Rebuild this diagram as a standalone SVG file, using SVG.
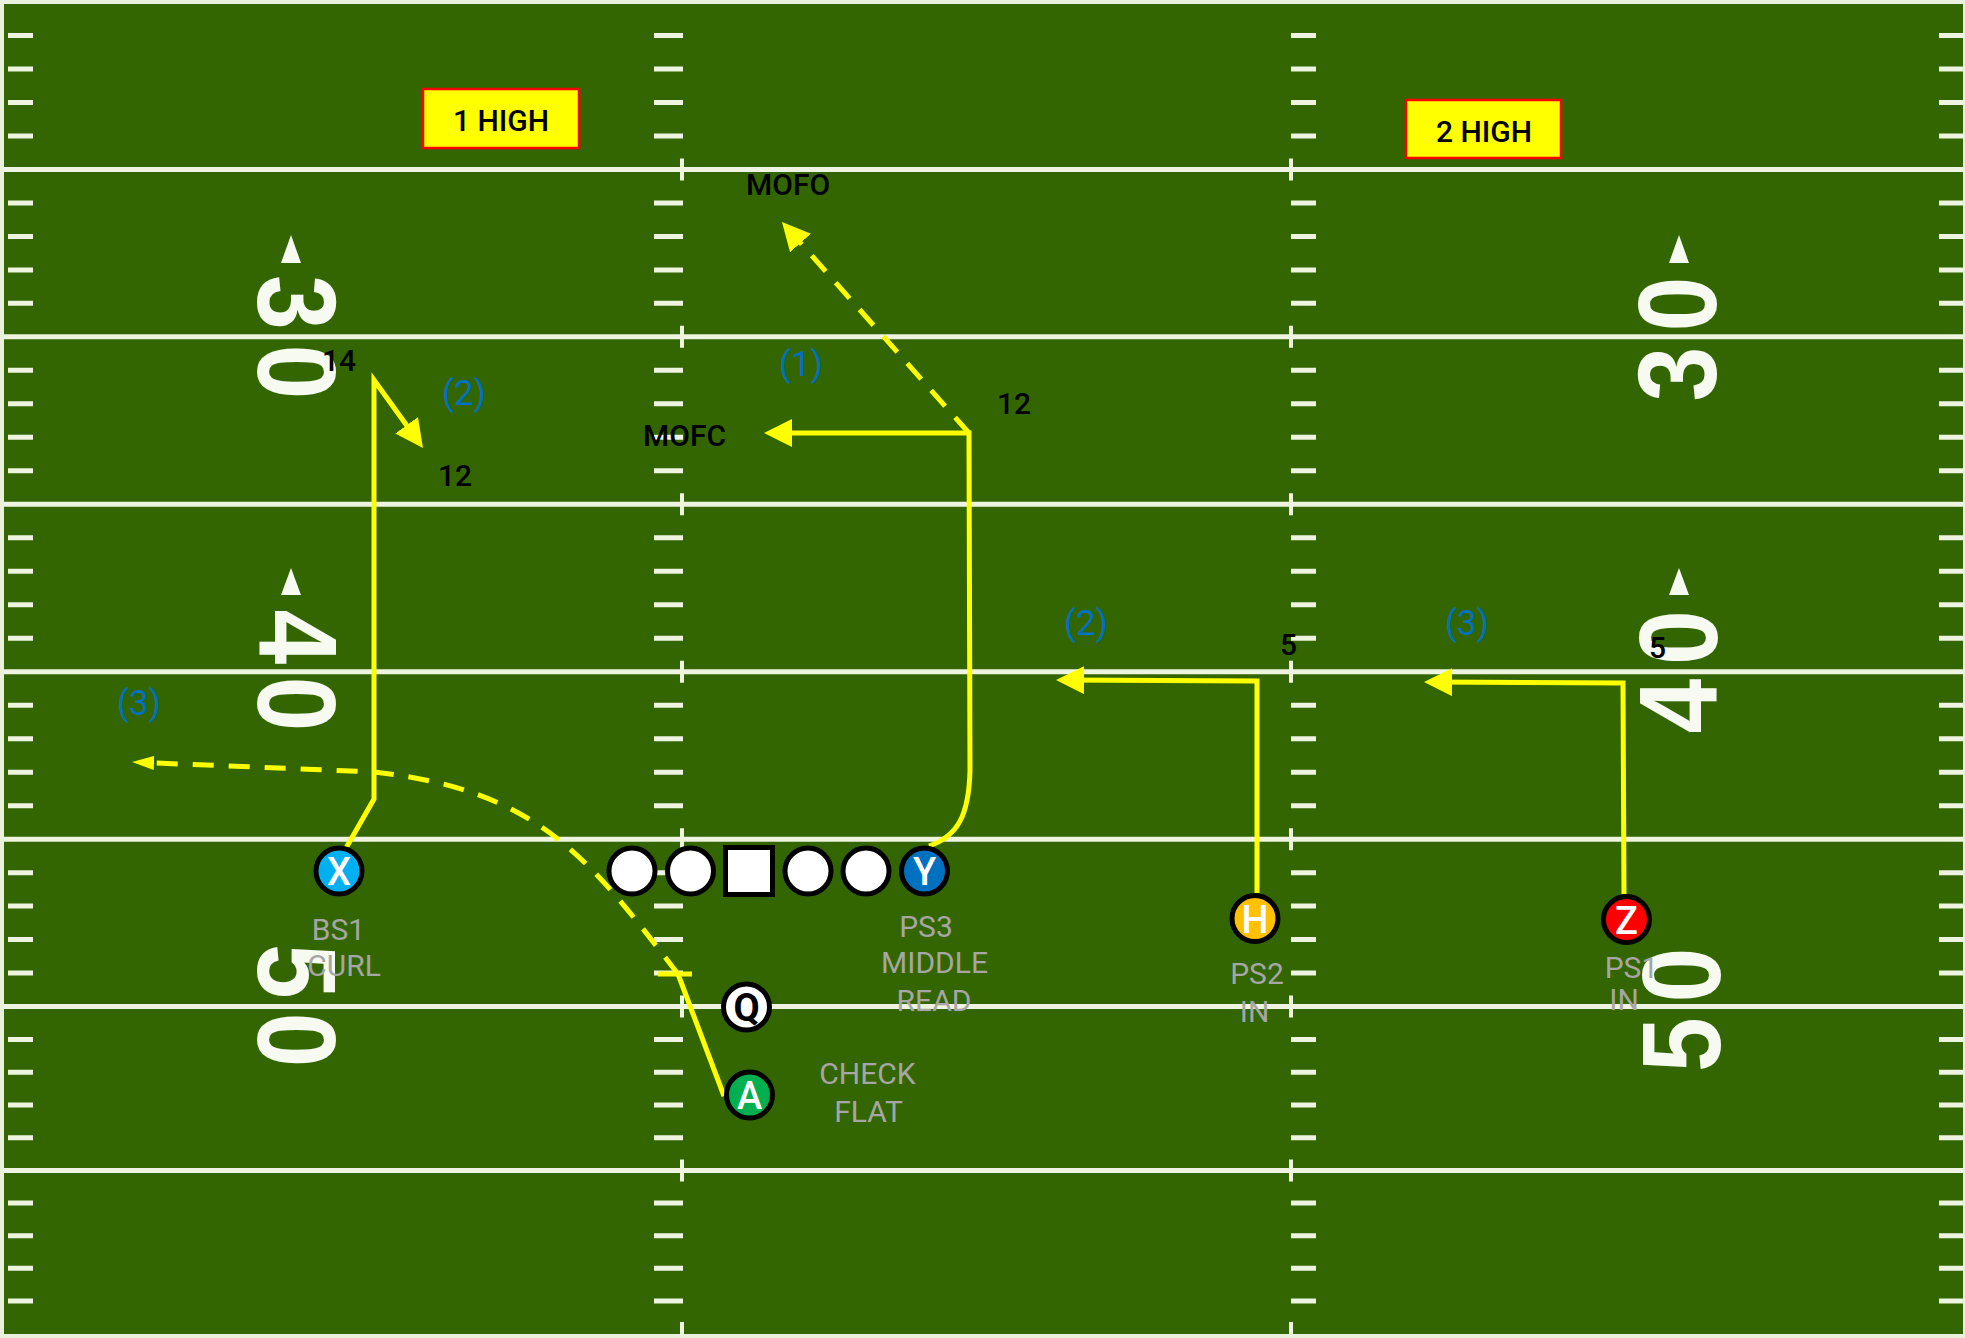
<svg xmlns="http://www.w3.org/2000/svg" width="1965" height="1338" viewBox="0 0 1965 1338">
<style>
.yl{stroke:#eef4e0;stroke-width:5;fill:none}
.hm{stroke:#eef4e0;stroke-width:5;fill:none}
.tk{stroke:#eef4e0;stroke-width:4;fill:none}
.num{font-family:"Liberation Sans",Arial,sans-serif;font-weight:bold;font-size:112px;fill:#f7faf0;text-anchor:middle}
.tri{fill:#f7faf0}
.rt{fill:none;stroke:#ffff00;stroke-width:5}
.dash{stroke-dasharray:21 15}
.pl{stroke:#000;stroke-width:5}
.pt{font-family:Roboto,"Liberation Sans",sans-serif;font-size:38px;font-weight:500;text-anchor:middle;fill:#fff}
.gl{font-family:Roboto,"Liberation Sans",sans-serif;font-size:30px;fill:#a6a6a6;text-anchor:middle}
.bl{font-family:Roboto,"Liberation Sans",sans-serif;font-size:30px;font-weight:500;fill:#000}
.bu{font-family:Roboto,"Liberation Sans",sans-serif;font-size:35px;fill:#0070c0}
.box{fill:#ffff00;stroke:#ff0000;stroke-width:2.5}
.bt{font-family:Roboto,"Liberation Sans",sans-serif;font-size:30px;font-weight:500;fill:#000;text-anchor:middle}
</style>
<defs>
<marker id="ah" markerUnits="userSpaceOnUse" viewBox="0 0 28 28" markerWidth="28" markerHeight="28" refX="20" refY="14" orient="auto"><path d="M0,0 L28,14 L0,28 z" fill="#ffff00"/></marker>
<marker id="ahs" markerUnits="userSpaceOnUse" viewBox="0 0 22 14" markerWidth="22" markerHeight="14" refX="12" refY="7" orient="auto"><path d="M0,0 L22,7 L0,14 z" fill="#ffff00"/></marker>
<g id="hr"><path class="hm" d="M8 0h25M654 0h29M1291 0h25M1939 0h24"/></g>
</defs>

<g id="field">
<rect x="0" y="0" width="1965" height="1338" fill="#e9f0dc"/>
<rect x="4" y="4" width="1959" height="1330" fill="#336600"/>
<path class="yl" d="M4 169.5H1963M4 336.8H1963M4 504.3H1963M4 671.7H1963M4 839.2H1963M4 1006.6H1963M4 1170.5H1963"/>
<path class="tk" d="M682 158.5v22M1291 158.5v22M682 325.8v22M1291 325.8v22M682 493.3v22M1291 493.3v22M682 660.7v22M1291 660.7v22M682 828.2v22M1291 828.2v22M682 995.6v22M1291 995.6v22M682 1159.5v22M1291 1159.5v22M682 1322v12M1291 1322v12"/>
<use href="#hr" y="35.5"/><use href="#hr" y="69"/><use href="#hr" y="102.5"/><use href="#hr" y="136"/>
<use href="#hr" y="203"/><use href="#hr" y="236.4"/><use href="#hr" y="269.9"/><use href="#hr" y="303.3"/>
<use href="#hr" y="370.3"/><use href="#hr" y="403.8"/><use href="#hr" y="437.3"/><use href="#hr" y="470.8"/>
<use href="#hr" y="537.8"/><use href="#hr" y="571.2"/><use href="#hr" y="604.7"/><use href="#hr" y="638.2"/>
<use href="#hr" y="705.2"/><use href="#hr" y="738.7"/><use href="#hr" y="772.2"/><use href="#hr" y="805.7"/>
<use href="#hr" y="872.7"/><use href="#hr" y="906.1"/><use href="#hr" y="939.6"/><use href="#hr" y="973.1"/>
<use href="#hr" y="1039.4"/><use href="#hr" y="1072.2"/><use href="#hr" y="1104.9"/><use href="#hr" y="1137.7"/>
<use href="#hr" y="1203.1"/><use href="#hr" y="1235.7"/><use href="#hr" y="1268.3"/><use href="#hr" y="1300.9"/>
<!-- left numbers -->
<text class="num" transform="translate(298,302.5) rotate(90) scale(0.88,1)" y="40">3</text>
<text class="num" transform="translate(298,372) rotate(90) scale(0.88,1)" y="40">0</text>
<text class="num" transform="translate(299,637) rotate(90) scale(0.88,1)" y="40">4</text>
<text class="num" transform="translate(298,704) rotate(90) scale(0.88,1)" y="40">0</text>
<text class="num" transform="translate(298.5,971.5) rotate(90) scale(0.88,1)" y="40">5</text>
<text class="num" transform="translate(298.5,1040) rotate(90) scale(0.88,1)" y="40">0</text>
<path class="tri" d="M291 235L301 263L281 263Z"/>
<path class="tri" d="M291 568L301 595L281 595Z"/>
<!-- right numbers -->
<text class="num" transform="translate(1676,304) rotate(-90) scale(0.88,1)" y="40">0</text>
<text class="num" transform="translate(1676,374) rotate(-90) scale(0.88,1)" y="40">3</text>
<text class="num" transform="translate(1677,637.5) rotate(-90) scale(0.88,1)" y="40">0</text>
<text class="num" transform="translate(1677,706) rotate(-90) scale(0.88,1)" y="40">4</text>
<text class="num" transform="translate(1680,975) rotate(-90) scale(0.88,1)" y="40">0</text>
<text class="num" transform="translate(1680,1044.5) rotate(-90) scale(0.88,1)" y="40">5</text>
<path class="tri" d="M1679 235L1689 263L1669 263Z"/>
<path class="tri" d="M1679 568L1689 595L1669 595Z"/>
</g>

<g id="coverage-tags">
<g id="tag-1high"><rect class="box" x="423" y="89" width="156" height="59"/><text class="bt" x="501" y="131">1 HIGH</text></g>
<g id="tag-2high"><rect class="box" x="1406" y="100" width="155" height="58"/><text class="bt" x="1484" y="142">2 HIGH</text></g>
</g>

<g id="connectors">
<path id="route-x" class="rt" d="M346 848L374 799L374 380L418.3 441.5" marker-end="url(#ah)"/>
<path id="route-y" class="rt" d="M929 846C958 836 969 815 970 770L969 433L772 433" marker-end="url(#ah)"/>
<path id="route-y-mofo" class="rt dash" d="M969 433L787.3 228" marker-end="url(#ah)"/>
<path id="route-h" class="rt" d="M1257 893L1257 681L1064 680" marker-end="url(#ah)"/>
<path id="route-z" class="rt" d="M1624 894L1623 683L1432 682" marker-end="url(#ah)"/>
<path id="route-a" class="rt" d="M724 1096L678 974"/>
<path id="route-a-tick" class="rt" d="M658 974L692 974"/>
<path id="route-a-wheel" class="rt dash" d="M678 974C590 860 540 790 374 772L142 762.4" marker-end="url(#ahs)"/>
</g>

<g id="route-labels">
<text class="bl" x="746" y="195">MOFO</text>
<text class="bl" x="643" y="446">MOFC</text>
<text class="bl" x="997" y="414">12</text>
<text class="bl" x="322" y="371">14</text>
<text class="bl" x="438" y="486">12</text>
<text class="bl" x="1280" y="655">5</text>
<text class="bl" x="1649" y="658">5</text>
<text class="bu" x="779" y="376">(1)</text>
<text class="bu" x="442" y="405">(2)</text>
<text class="bu" x="117" y="715">(3)</text>
<text class="bu" x="1064" y="635">(2)</text>
<text class="bu" x="1445" y="635">(3)</text>
</g>

<g id="node-x"><circle class="pl" cx="339" cy="871" r="23" fill="#00b0f0"/><text class="pt" x="339" y="885">X</text>
<text class="gl" x="338.5" y="940">BS1</text><text class="gl" x="344" y="976">CURL</text></g>
<g id="node-ol1"><circle class="pl" cx="632" cy="871" r="23" fill="#fff"/></g>
<g id="node-ol2"><circle class="pl" cx="690.5" cy="871" r="23" fill="#fff"/></g>
<g id="node-c"><rect class="pl" x="725.5" y="847.5" width="47" height="47" fill="#fff"/></g>
<g id="node-ol3"><circle class="pl" cx="808" cy="871" r="23" fill="#fff"/></g>
<g id="node-ol4"><circle class="pl" cx="866" cy="871" r="23" fill="#fff"/></g>
<g id="node-y"><circle class="pl" cx="924.5" cy="871" r="23" fill="#0070c0"/><text class="pt" x="924.5" y="885">Y</text>
<text class="gl" x="926" y="937">PS3</text><text class="gl" x="934.5" y="973">MIDDLE</text><text class="gl" x="934" y="1011">READ</text></g>
<g id="node-q"><circle class="pl" cx="746.5" cy="1007" r="23" fill="#fff"/><text class="pt" x="746.5" y="1021" style="fill:#000;font-weight:bold">Q</text></g>
<g id="node-a"><circle class="pl" cx="749.5" cy="1095" r="23" fill="#00b050"/><text class="pt" x="749.5" y="1109">A</text>
<text class="gl" x="867.5" y="1084">CHECK</text><text class="gl" x="868.5" y="1122">FLAT</text></g>
<g id="node-h"><circle class="pl" cx="1255" cy="918.5" r="23" fill="#ffc000"/><text class="pt" x="1255" y="932.5">H</text>
<text class="gl" x="1257" y="984">PS2</text><text class="gl" x="1254.5" y="1022">IN</text></g>
<g id="node-z"><circle class="pl" cx="1626.5" cy="919.5" r="23" fill="#ff0000"/><text class="pt" x="1626.5" y="933.5">Z</text>
<text class="gl" x="1631.5" y="978">PS1</text><text class="gl" x="1624" y="1010">IN</text></g>
</svg>
